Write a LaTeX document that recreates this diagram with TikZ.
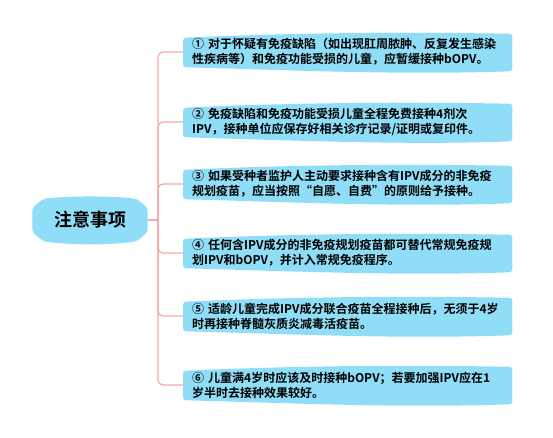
\documentclass[tikz,border=0pt]{standalone}
\usepackage{fontspec}
\setmainfont{Noto Sans CJK SC}[BoldFont={Noto Sans CJK SC Bold}]
\usepackage{xcolor}
\usetikzlibrary{positioning,calc,backgrounds}
\definecolor{boxblue}{RGB}{143,221,247}
\definecolor{linkred}{RGB}{247,168,168}
\tikzset{
  note/.style={anchor=west,minimum width=329pt,minimum height=34pt,text width=311pt,
    inner xsep=9pt,align=left,font=\fontsize{12}{15}\selectfont\bfseries},
  topic/.style={minimum width=115pt,minimum height=44pt,inner sep=0pt,
    font=\fontsize{18}{20}\selectfont\bfseries},
  link/.style={draw=linkred,line width=1.3pt,rounded corners=5pt},
}
\newcommand\bubble[1]{%
  \fill[boxblue,rounded corners=3pt] ([yshift=-3pt]#1.north west)
    .. controls +(110pt,5pt) and +(-110pt,2pt) .. ([yshift=1pt]#1.north east)
    -- ([yshift=-2pt]#1.south east)
    .. controls +(-110pt,-4pt) and +(110pt,-3pt) .. ([yshift=2pt]#1.south west) -- cycle;}
\newcommand\topicshape[1]{%
  \fill[boxblue,rounded corners=3pt] ([yshift=-10pt]#1.north west)
    -- ([xshift=11pt,yshift=-1pt]#1.north west)
    .. controls +(25pt,3pt) and +(-25pt,3pt) .. ([xshift=-11pt,yshift=-1pt]#1.north east)
    -- ([yshift=-10pt]#1.north east) -- ([yshift=10pt]#1.south east)
    -- ([xshift=-11pt,yshift=1pt]#1.south east)
    .. controls +(-25pt,-4pt) and +(25pt,-4pt) .. ([xshift=11pt,yshift=1pt]#1.south west)
    -- ([yshift=10pt]#1.south west) -- cycle;}

\begin{document}
\begin{tikzpicture}[x=1pt,y=-1pt]
\useasboundingbox (0,0) rectangle (553,437);
\node[topic] (root) at (90,220) {注意事项};
\coordinate (hub) at (158,220);
\node[note] (n1) at (183,52) {① 对于怀疑有免疫缺陷（如出现肛周脓肿、反复发生感染\\性疾病等）和免疫功能受损的儿童，应暂缓接种bOPV。};
\node[note] (n2) at (183,122) {② 免疫缺陷和免疫功能受损儿童全程免费接种4剂次\\IPV，接种单位应保存好相关诊疗记录/证明或复印件。};
\node[note] (n3) at (183,184) {③ 如果受种者监护人主动要求接种含有IPV成分的非免疫\\规划疫苗，应当按照“自愿、自费”的原则给予接种。};
\node[note] (n4) at (183,253) {④ 任何含IPV成分的非免疫规划疫苗都可替代常规免疫规\\划IPV和bOPV，并计入常规免疫程序。};
\node[note] (n5) at (183,316) {⑤ 适龄儿童完成IPV成分联合疫苗全程接种后，无须于4岁\\时再接种脊髓灰质炎减毒活疫苗。};
\node[note] (n6) at (183,385) {⑥ 儿童满4岁时应该及时接种bOPV；若要加强IPV应在1\\岁半时去接种效果较好。};
\begin{pgfonlayer}{background}
  \draw[link] (root.east) -- (hub);
  \draw[link] (hub) |- (n1.west); \draw[link] (hub) |- (n2.west);
  \draw[link] (hub) |- (n3.west); \draw[link] (hub) |- (n4.west);
  \draw[link] (hub) |- (n5.west); \draw[link] (hub) |- (n6.west);
  \topicshape{root}
  \bubble{n1} \bubble{n2} \bubble{n3} \bubble{n4} \bubble{n5} \bubble{n6}
\end{pgfonlayer}
\end{tikzpicture}
\end{document}
